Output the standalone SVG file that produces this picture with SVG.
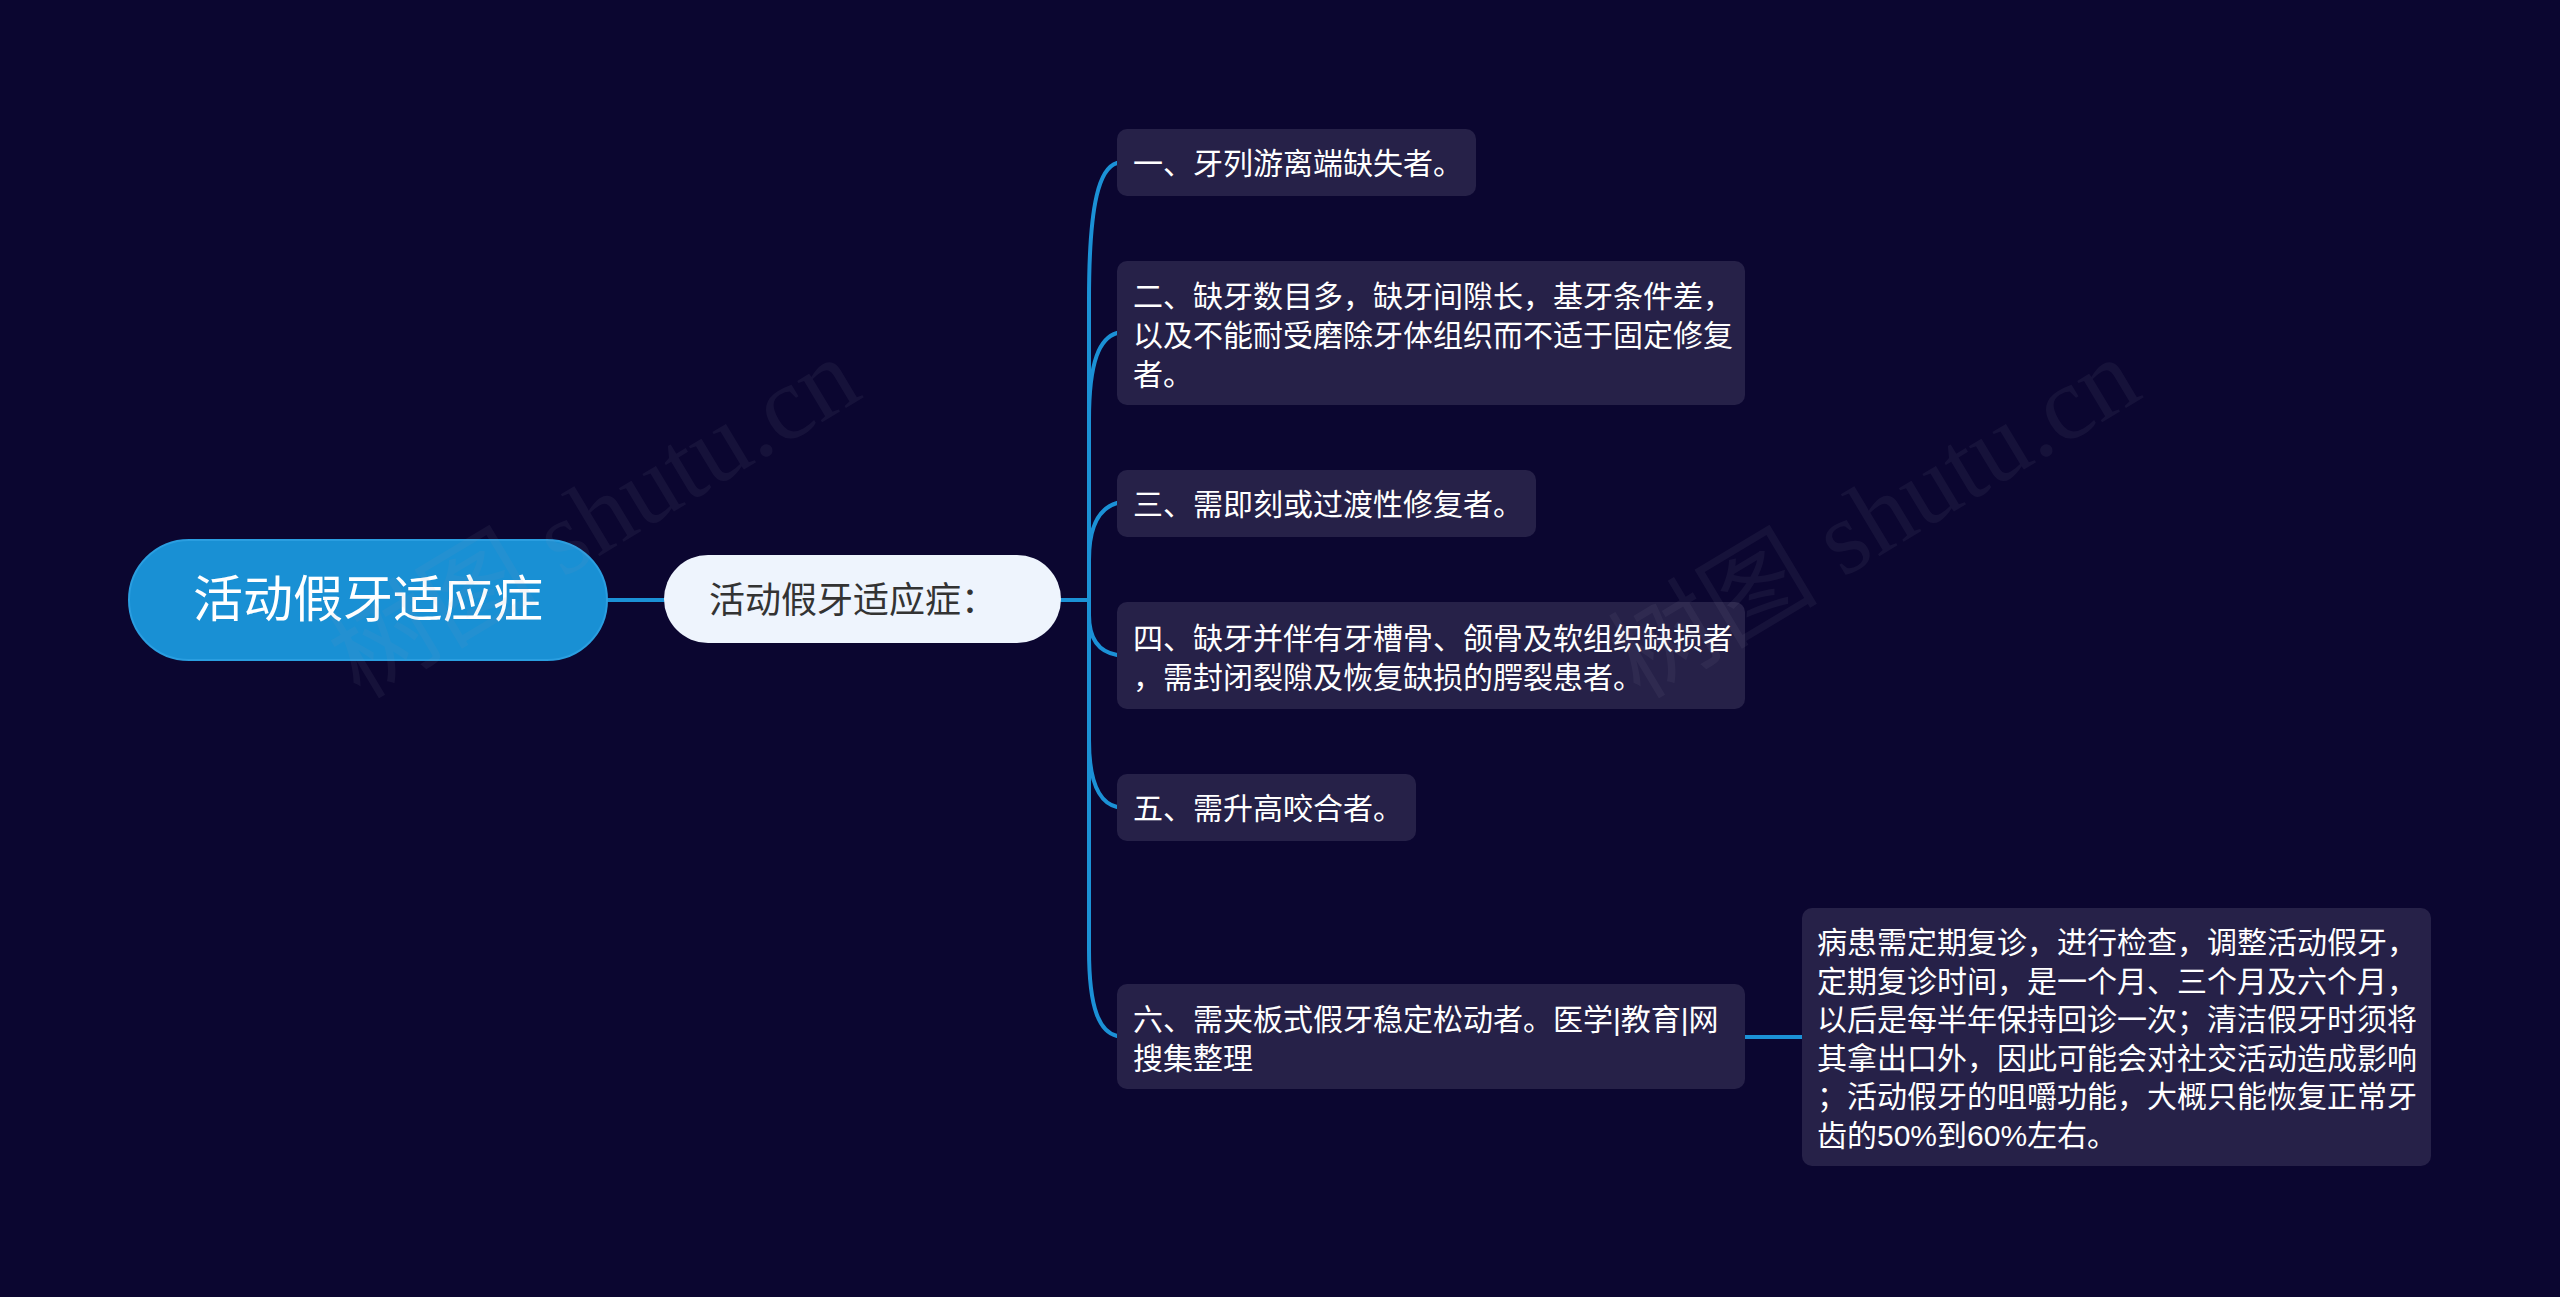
<svg xmlns="http://www.w3.org/2000/svg" width="2560" height="1297" viewBox="0 0 2560 1297">
<style>
.bg{fill:#0b0630}
.conn{fill:none;stroke:#1b91d6;stroke-width:4;stroke-linecap:round}
.leaf{fill:#262148}
.lt{font-family:"Liberation Sans","Noto Sans CJK SC",sans-serif;font-size:30px;fill:#ffffff}
.wm{font-family:"Liberation Serif","Noto Sans CJK SC",serif;font-size:105px;fill:#9a9ab0;opacity:0.08}
</style>
<rect class="bg" x="0" y="0" width="2560" height="1297"/>
<g id="connectors">
<path class="conn" d="M607,600 H664"/>
<path class="conn" d="M1061,600 H1089"/>
<path class="conn" d="M1089,600 V300 C1089,200 1100,168 1117,163"/>
<path class="conn" d="M1089,600 V420 C1089,360 1100,338 1117,333"/>
<path class="conn" d="M1089,600 V560 C1089,525 1100,508 1117,503"/>
<path class="conn" d="M1089,600 V615 C1089,640 1100,652 1117,655"/>
<path class="conn" d="M1089,600 V740 C1089,785 1100,803 1117,807"/>
<path class="conn" d="M1089,600 V950 C1089,1010 1100,1032 1117,1036"/>
<path class="conn" d="M1745,1037 H1802"/>
</g>
<g id="root">
<rect x="129" y="540" width="478" height="120" rx="60" fill="#1990d4" stroke="#2a9ee0" stroke-width="2"/>
<text x="368" y="617" text-anchor="middle" font-family="Noto Sans CJK SC,Noto Sans,sans-serif" font-size="50" fill="#ffffff">活动假牙适应症</text>
</g>
<g id="main">
<rect x="664" y="555" width="397" height="88" rx="44" fill="#eef4fd"/>
<text x="709" y="613" font-family="Noto Sans CJK SC,Noto Sans,sans-serif" font-size="36" fill="#333333">活动假牙适应症：</text>
</g>
<g id="n1">
<rect class="leaf" x="1117" y="129" width="359" height="67" rx="10"/>
<text class="lt" x="1133" y="174">一、牙列游离端缺失者。</text>
</g>
<g id="n2">
<rect class="leaf" x="1117" y="261" width="628" height="144" rx="10"/>
<text class="lt" x="1133" y="307">二、缺牙数目多，缺牙间隙长，基牙条件差，</text>
<text class="lt" x="1133" y="346">以及不能耐受磨除牙体组织而不适于固定修复</text>
<text class="lt" x="1133" y="385">者。</text>
</g>
<g id="n3">
<rect class="leaf" x="1117" y="470" width="419" height="67" rx="10"/>
<text class="lt" x="1133" y="515">三、需即刻或过渡性修复者。</text>
</g>
<g id="n4">
<rect class="leaf" x="1117" y="602" width="628" height="107" rx="10"/>
<text class="lt" x="1133" y="649">四、缺牙并伴有牙槽骨、颌骨及软组织缺损者</text>
<text class="lt" x="1133" y="688">，需封闭裂隙及恢复缺损的腭裂患者。</text>
</g>
<g id="n5">
<rect class="leaf" x="1117" y="774" width="299" height="67" rx="10"/>
<text class="lt" x="1133" y="819">五、需升高咬合者。</text>
</g>
<g id="n6">
<rect class="leaf" x="1117" y="984" width="628" height="105" rx="10"/>
<text class="lt" x="1133" y="1030">六、需夹板式假牙稳定松动者。医学|教育|网</text>
<text class="lt" x="1133" y="1069">搜集整理</text>
</g>
<g id="n7">
<rect class="leaf" x="1802" y="908" width="629" height="258" rx="10"/>
<text class="lt" x="1817" y="953">病患需定期复诊，进行检查，调整活动假牙，</text>
<text class="lt" x="1817" y="992">定期复诊时间，是一个月、三个月及六个月，</text>
<text class="lt" x="1817" y="1030">以后是每半年保持回诊一次；清洁假牙时须将</text>
<text class="lt" x="1817" y="1069">其拿出口外，因此可能会对社交活动造成影响</text>
<text class="lt" x="1817" y="1107">；活动假牙的咀嚼功能，大概只能恢复正常牙</text>
<text class="lt" x="1817" y="1146">齿的50%到60%左右。</text>
</g>
<g id="watermarks">
<text class="wm" transform="translate(360,700) rotate(-31)">树图 shutu.cn</text>
<text class="wm" transform="translate(1640,700) rotate(-31)">树图 shutu.cn</text>
</g>
</svg>
